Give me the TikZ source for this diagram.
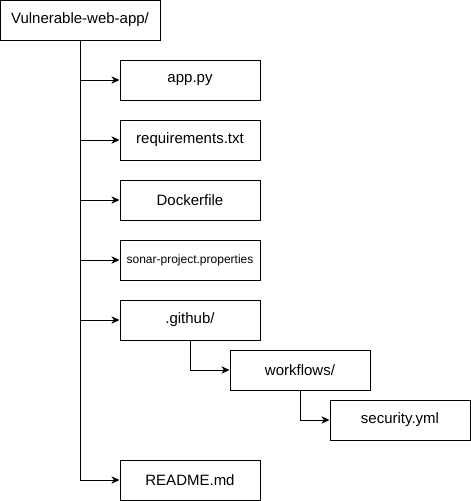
\documentclass[tikz,border=0pt]{standalone}
\usepackage{fontspec}
\setmainfont{Liberation Sans}
\usetikzlibrary{arrows.meta}
\tikzset{
  filebox/.style={draw, line width=0.75pt, minimum width=105pt, minimum height=30pt,
    inner sep=0pt, font=\fontsize{11.25}{13}\selectfont},
  tree/.style={line width=0.75pt, -{Stealth[length=6pt,width=5.5pt,inset=1.8pt]}}
}

\begin{document}
\begin{tikzpicture}[x=0.75pt,y=-0.75pt]

\useasboundingbox (0,0) rectangle (471,501);

\node[filebox, minimum width=120pt] (root) at (80,20) {Vulnerable-web-app/};

% files directly under the root
\foreach \name/\y/\label in {app/80/app.py, req/140/requirements.txt,
  docker/200/Dockerfile, github/320/{.github/}, readme/480/README.md}
{
  \node[filebox] (\name) at (190,\y) {\label};
  \draw[tree] (root) |- (\name);
}
\node[filebox, font=\fontsize{9}{11}\selectfont] (sonar) at (190,260) {sonar-project.properties};
\draw[tree] (root) |- (sonar);

% nested folders
\node[filebox] (workflows) at (300,370) {workflows/};
\node[filebox] (security) at (400,420) {security.yml};
\draw[tree] (github) |- (workflows);
\draw[tree] (workflows) |- (security);

\end{tikzpicture}
\end{document}
